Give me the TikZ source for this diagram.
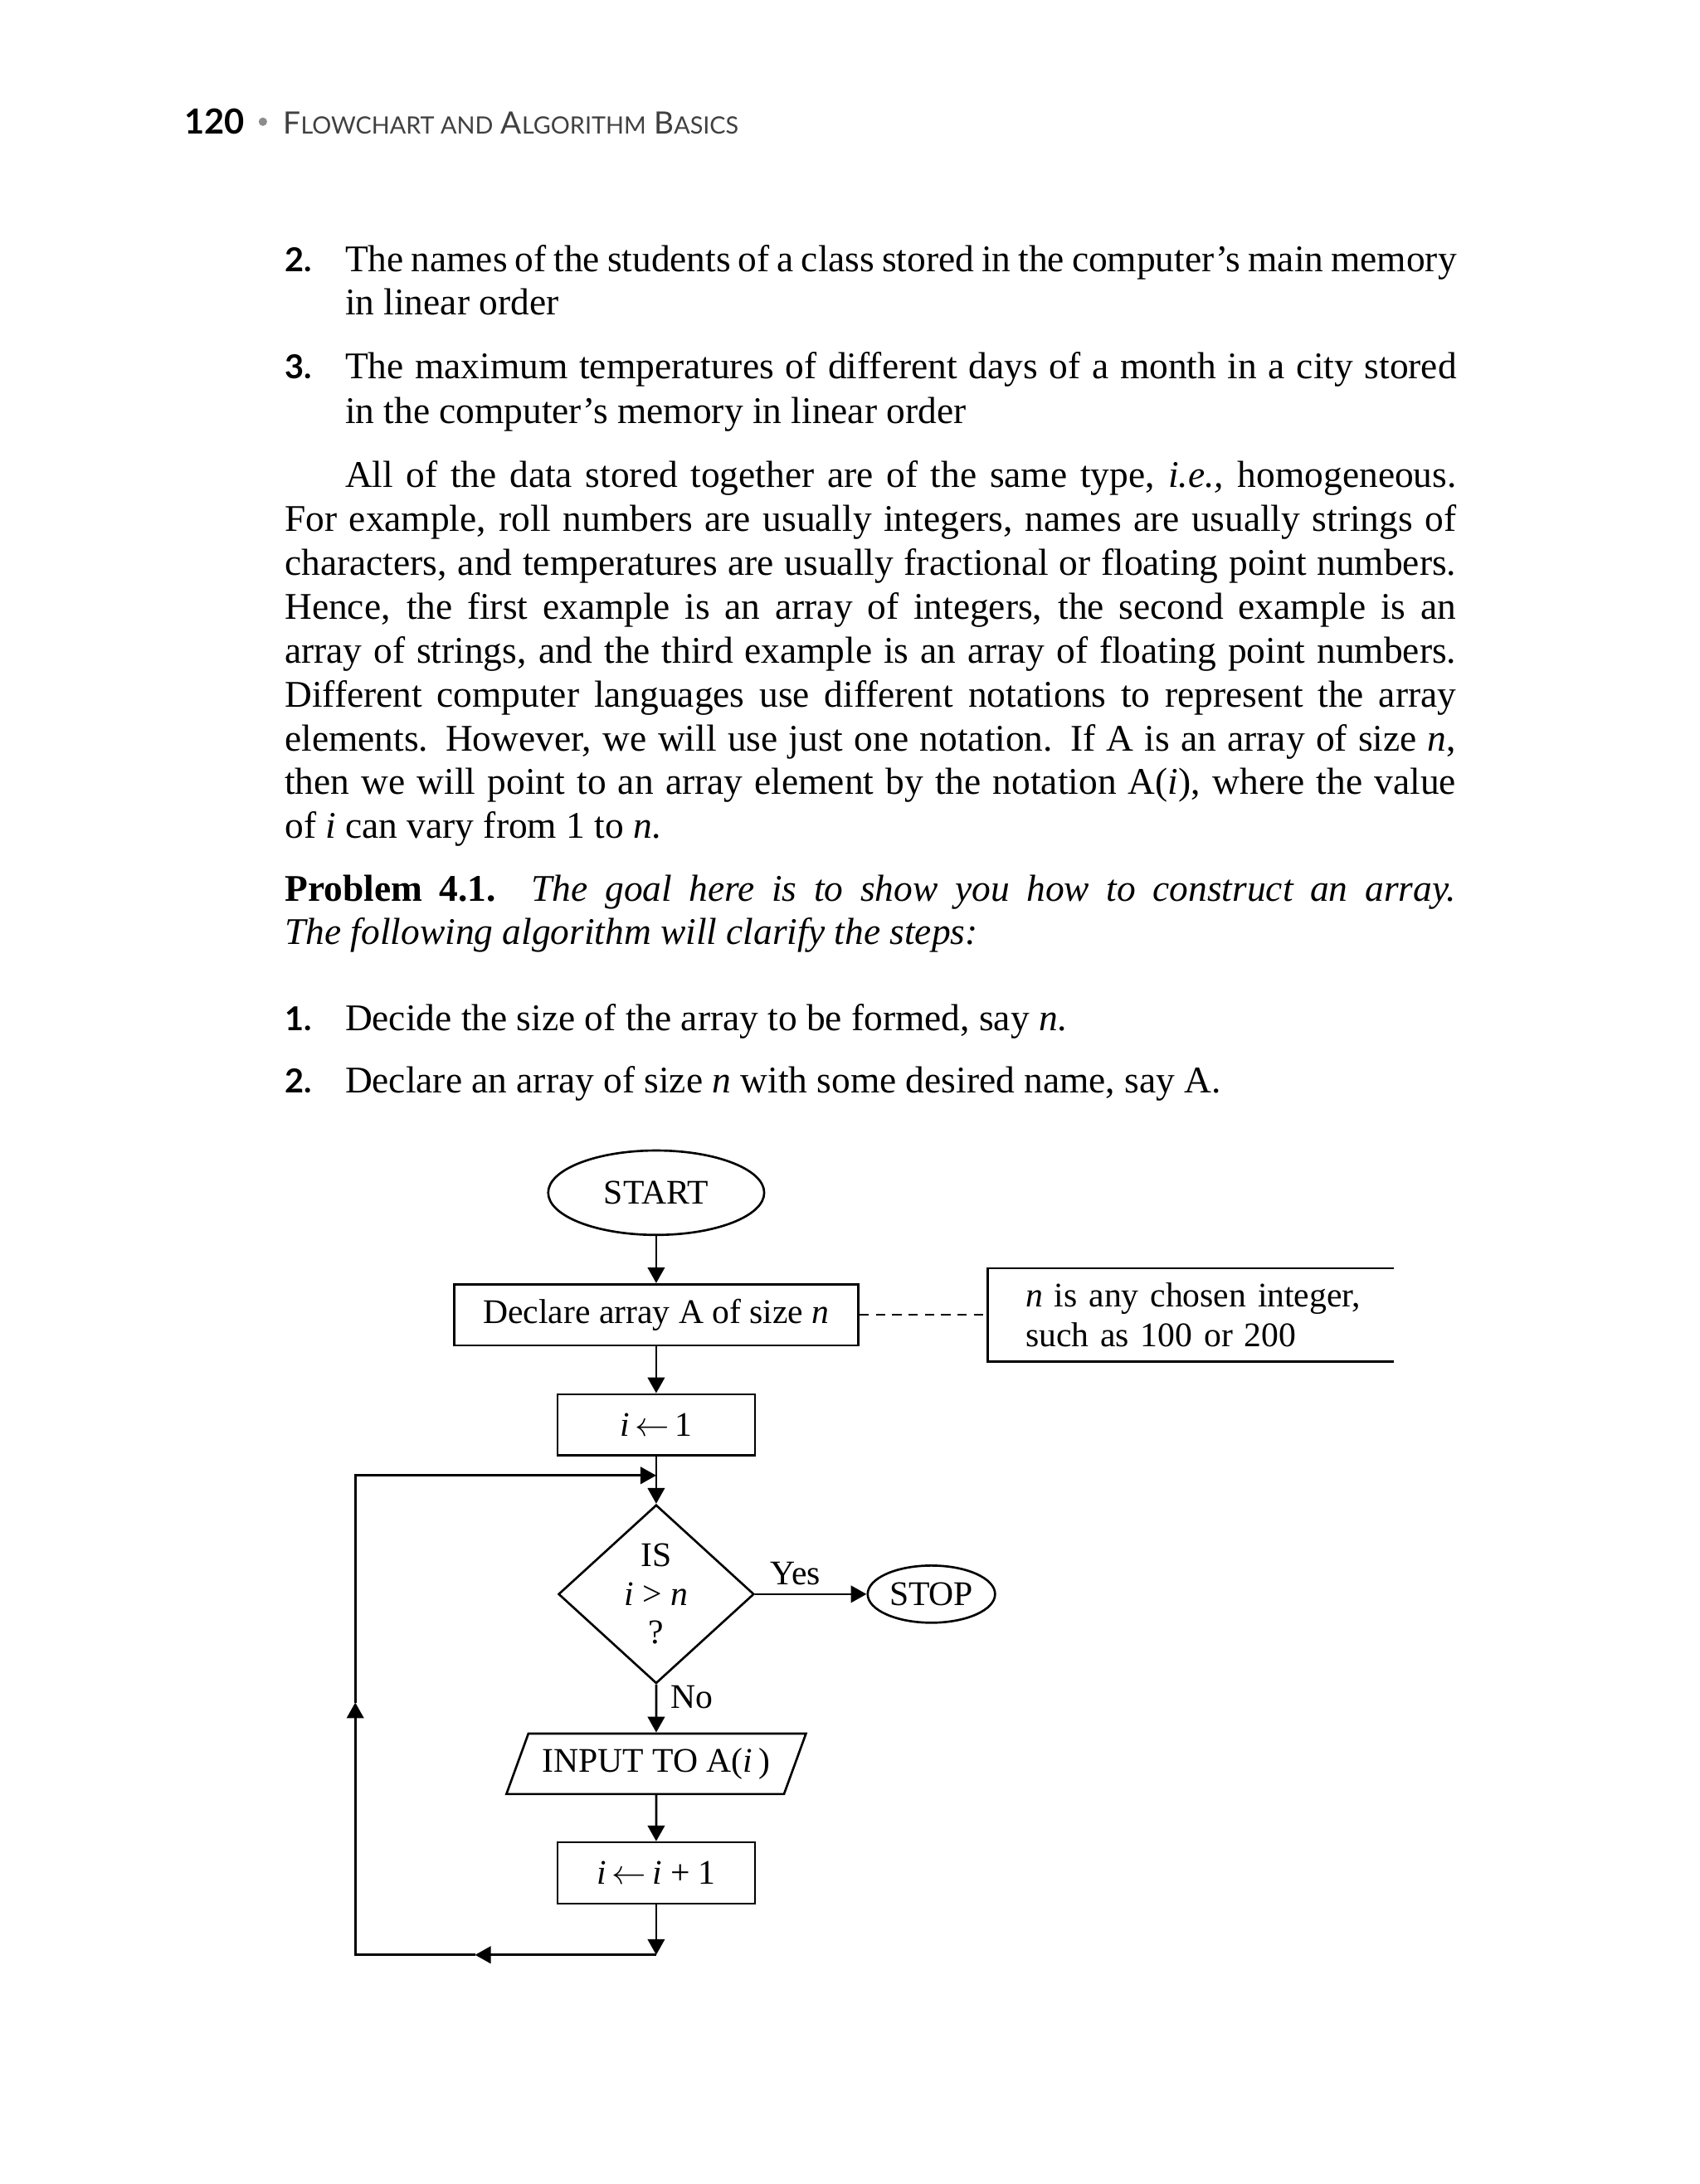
\documentclass[tikz,border=0pt]{standalone}
\usepackage{fontspec}
\setmainfont{Liberation Serif}
\newfontfamily\headfont{Lato}
\usetikzlibrary{shapes.geometric,arrows.meta}

\newcommand{\bodysize}{\fontsize{12}{14}\selectfont}
\newcommand{\chartsize}{\fontsize{11}{12.5}\selectfont}
% justified lines of the page
\newcommand{\fullline}[1]{\makebox[13.11cm][s]{#1}}
\newcommand{\indline}[1]{\makebox[12.44cm][s]{#1}}
\newcommand{\hsc}[2]{{\fontsize{9.8}{10}\selectfont #1}{\fontsize{7.6}{9}\selectfont #2}}

\begin{document}
\begin{tikzpicture}[
  x=0.0156cm,y=-0.0156cm,
  body/.style={anchor=base west, inner sep=0pt, font=\bodysize},
  numlabel/.style={anchor=base west, inner sep=0pt, font=\headfont\bfseries\fontsize{10.5}{12}\selectfont},
  terminal/.style={draw, ellipse, line width=.7pt, inner sep=0pt, font=\chartsize},
  process/.style={draw, rectangle, line width=.7pt, minimum width=2.21cm, minimum height=.686cm, inner sep=0pt, font=\chartsize},
  inout/.style={draw, trapezium, trapezium left angle=58, trapezium right angle=122, trapezium stretches=true,
    line width=.7pt, minimum width=3.376cm, minimum height=.677cm, inner sep=0pt, font=\chartsize},
  decision/.style={draw, diamond, line width=.7pt, minimum width=2.19cm, minimum height=2cm, inner sep=0pt},
  notebox/.style={minimum width=4.524cm, minimum height=1.03cm, inner xsep=.42cm, inner ysep=0pt,
    text width=3.69cm, align=left, font=\chartsize},
  chartlabel/.style={inner sep=0pt, font=\chartsize},
  flow/.style={-{Triangle[length=5pt,width=5.4pt]}, line width=.7pt},
  link/.style={line width=.6pt, dash pattern=on 3pt off 2.2pt}
]

\path[use as bounding box] (0,0) rectangle (1220,1568);

% Running head
\node[anchor=base west, inner sep=0pt, font=\headfont\bfseries\fontsize{11}{12}\selectfont] (pageno) at (132,96.3) {120};
\node[circle, fill=black!45, inner sep=0pt, minimum size=.094cm] (headdot) at (188.7,87.4) {};
\node[anchor=base west, inner sep=0pt, font=\headfont, text=black!75] (runhead) at (203,96.3)
  {\hsc{F}{LOWCHART AND} \hsc{A}{LGORITHM} \hsc{B}{ASICS}};

% Numbered examples
\node[numlabel] (exnumA) at (204,195.2) {2.};
\node[body] (exA1) at (247.3,195.2) {\indline{The names of the students of a class stored in the computer’s main memory}};
\node[body] (exA2) at (247.3,226) {in linear order};
\node[numlabel] (exnumB) at (204,272) {3.};
\node[body] (exB1) at (247.3,272) {\indline{The maximum temperatures of different days of a month in a city stored}};
\node[body] (exB2) at (247.3,303.8) {in the computer’s memory in linear order};

% Paragraph
\node[body] (par1) at (247.3,350) {\indline{All of the data stored together are of the same type, \textit{i.e.,} homogeneous.}};
\node[body] (par2) at (204,381.5) {\fullline{For example, roll numbers are usually integers, names are usually strings of}};
\node[body] (par3) at (204,413) {\fullline{characters, and temperatures are usually fractional or floating point numbers.}};
\node[body] (par4) at (204,444.5) {\fullline{Hence, the first example is an array of integers, the second example is an}};
\node[body] (par5) at (204,476) {\fullline{array of strings, and the third example is an array of floating point numbers.}};
\node[body] (par6) at (204,507.5) {\fullline{Different computer languages use different notations to represent the array}};
\node[body] (par7) at (204,539) {\fullline{elements. However, we will use just one notation. If A is an array of size \textit{n},}};
\node[body] (par8) at (204,570.5) {\fullline{then we will point to an array element by the notation A(\textit{i}), where the value}};
\node[body] (par9) at (204,602) {of \textit{i} can vary from 1 to \textit{n}.};

% Problem statement
\node[body] (prob1) at (204,647.3) {\fullline{\textbf{Problem 4.1.} \textit{The goal here is to show you how to construct an array.}}};
\node[body] (prob2) at (204,678) {\textit{The following algorithm will clarify the steps:}};

\node[numlabel] (stepnumA) at (204,739.7) {1.};
\node[body] (stepA) at (247.3,739.7) {Decide the size of the array to be formed, say \textit{n}.};
\node[numlabel] (stepnumB) at (204,784.3) {2.};
\node[body] (stepB) at (247.3,784.3) {Declare an array of size \textit{n} with some desired name, say A.};

% Flowchart
\node[terminal, minimum width=2.418cm, minimum height=.945cm] (start) at (471,856.3) {START};
\node[process, minimum width=4.524cm] (declare) at (471,944) {Declare array A of size \textit{n}};
\node[notebox] (note) at (854.5,944) {\mbox{\textit{n} is any chosen integer,}\\such as 100 or 200};
\node[process] (init) at (471,1023) {\textit{i}\,$\leftarrow$\,1};
\node[decision] (test) at (471,1144.5) {};
\node[chartlabel, align=center, font=\fontsize{11}{12.3}\selectfont] (testtext) at (test) {IS\\\textit{i} > \textit{n}\\?};
\node[terminal, minimum width=1.426cm, minimum height=.64cm] (stop) at (668.5,1144.5) {STOP};
\node[inout] (input) at (471,1266.3) {INPUT TO A(\textit{i}\,)};
\node[process] (inc) at (471,1344.7) {\textit{i}\,$\leftarrow$\,\textit{i} + 1};

\coordinate (join) at (471,1059.3);
\coordinate (back) at (471,1403.5);
\coordinate (botmid) at (341,1403.5);
\coordinate (botleft) at (255,1403.5);
\coordinate (leftmid) at (255,1222.3);
\coordinate (topleft) at (255,1059.3);

% note box is open on the right
\draw[line width=.7pt] (note.north east) -- (note.north west) -- (note.south west) -- (note.south east);
\draw[link] (declare) -- (note);

\draw[flow] (start) -- (declare);
\draw[flow] (declare) -- (init);
\draw[flow] (init) -- (test);
\draw[flow] (test) -- node[chartlabel, pos=.36, anchor=base, yshift=3pt] (yeslabel) {Yes} (stop);
\draw[flow] (test) -- node[chartlabel, anchor=base west, xshift=4.4pt] (nolabel) {No} (input);
\draw[flow] (input) -- (inc);

% loop back
\draw[flow] (inc) -- (back);
\draw[flow] (back) -- (botmid);
\draw[flow] (botmid) -- (botleft) -- (leftmid);
\draw[flow] (leftmid) -- (topleft) -- (join);

\end{tikzpicture}
\end{document}
